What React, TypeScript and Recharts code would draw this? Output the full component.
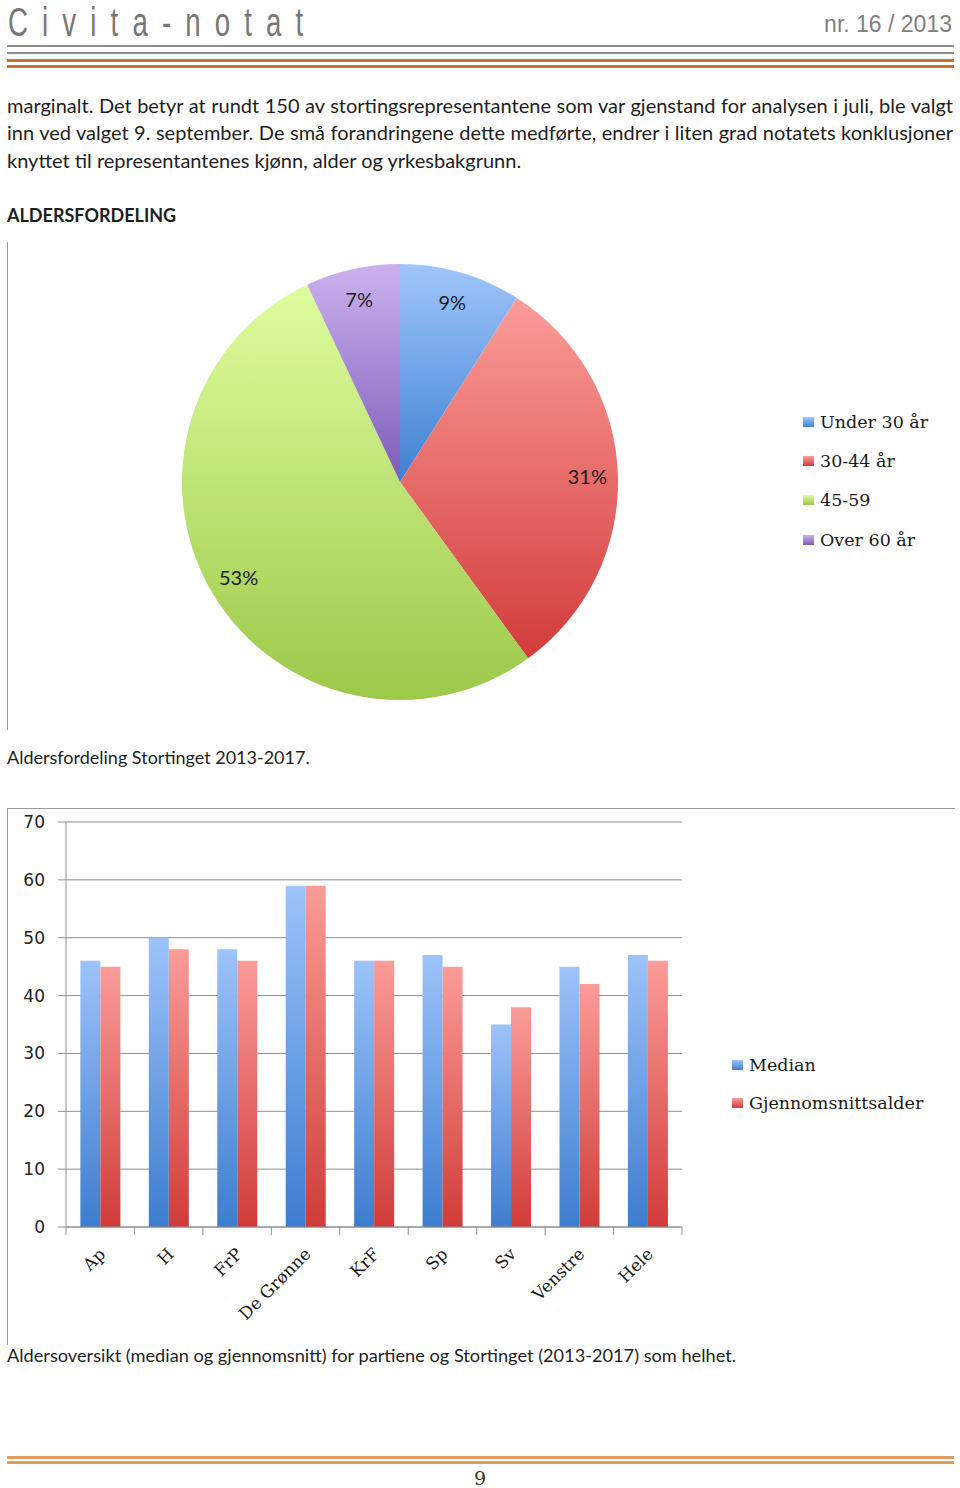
import React from 'react';
import { PieChart, Pie, Cell, BarChart, Bar, XAxis, YAxis, CartesianGrid, Legend } from 'recharts';

// ---------- data ----------
const ageGroups = ['Under 30 år', '30-44 år', '45-59', 'Over 60 år'];
const agePercents = [9, 31, 53, 7];

const parties = ['Ap', 'H', 'FrP', 'De Grønne', 'KrF', 'Sp', 'Sv', 'Venstre', 'Hele'];
const medianAge = [46, 50, 48, 59, 46, 47, 35, 45, 47];
const meanAge = [45, 48, 46, 59, 46, 45, 38, 42, 46];
const seriesNames = ['Median', 'Gjennomsnittsalder'];
const yTicks = [0, 10, 20, 30, 40, 50, 60, 70];

const pieData = ageGroups.map((name, i) => ({ name, value: agePercents[i] }));
const barData = parties.map((name, i) => ({ name, median: medianAge[i], mean: meanAge[i] }));

// ---------- styles ----------
const pieGrad = [
  ['#a0c6fb', '#3f80d2'],
  ['#fb9c99', '#d23c3a'],
  ['#defd9e', '#9dc84a'],
  ['#cbb2ee', '#7d5bb8'],
];
const barGrad = [
  ['#9dc3fa', '#3d7dcf'],
  ['#fb9c99', '#d03c39'],
];
const SERIF = "'DejaVu Serif', 'Liberation Serif', serif";
const SANS = "Lato, 'Noto Sans', sans-serif";
const AXIS = "'DejaVu Sans', sans-serif";
const GRID = '#8e8e8e';

const RAD = Math.PI / 180;
const renderPieLabel = (props: any) => {
  const { cx, cy, midAngle, outerRadius, value } = props;
  const r = outerRadius * 0.86;
  const x = cx + r * Math.cos(-midAngle * RAD);
  const y = cy + r * Math.sin(-midAngle * RAD);
  return (
    <text x={x} y={y} textAnchor="middle" dominantBaseline="central" fontFamily={SANS} fontSize={20} fill="#1c1c1c">
      {value}%
    </text>
  );
};

const LegendList = ({ items, colors, rowH }: { items: string[]; colors: string[][]; rowH: number }) => (
  <div style={{ fontFamily: SERIF, fontSize: 17.5, color: '#1a1a1a' }}>
    {items.map((t, i) => (
      <div key={t} style={{ display: 'flex', alignItems: 'center', height: rowH }}>
        <span
          style={{
            display: 'inline-block',
            width: 11,
            height: 10,
            marginRight: 6,
            background: `linear-gradient(${colors[i][0]}, ${colors[i][1]})`,
          }}
        />
        <span>{t}</span>
      </div>
    ))}
  </div>
);

const PartyTick = (props: any) => {
  const { x, y, payload, width, index } = props;
  const bw = width / parties.length;
  const left = x - bw / 2;
  return (
    <g>
      <line x1={left} y1={y} x2={left} y2={y + 8} stroke={GRID} />
      {index === parties.length - 1 && <line x1={x + bw / 2} y1={y} x2={x + bw / 2} y2={y + 8} stroke={GRID} />}
      <g transform={`translate(${x + 2},${y + 24}) rotate(-45)`}>
        <text x={0} y={0} textAnchor="end" dominantBaseline="central" fontFamily={SERIF} fontSize={17} fill="#1a1a1a">
          {payload.value}
        </text>
      </g>
    </g>
  );
};

const textLine = (top: number, text: string, justify: boolean) => (
  <div
    style={{
      position: 'absolute',
      left: 7,
      top,
      width: 946,
      fontFamily: SANS,
      fontSize: 20,
      lineHeight: '27px',
      color: '#1e1e1e',
      textAlign: justify ? 'justify' : 'left',
      textAlignLast: justify ? 'justify' : 'left',
      whiteSpace: 'nowrap',
    } as any}
  >
    {text}
  </div>
);

export default function App() {
  return (
    <div style={{ position: 'absolute', left: 0, top: 0, width: 960, height: 1488, background: '#fff', overflow: 'hidden' }}>
      {/* header */}
      <div
        style={{
          position: 'absolute',
          left: 8,
          top: 7,
          fontFamily: "'Liberation Sans', Arial, sans-serif",
          fontSize: 40,
          lineHeight: '30px',
          letterSpacing: 20.5,
          color: '#777',
          whiteSpace: 'nowrap',
          transform: 'scaleX(0.69)',
          transformOrigin: '0 0',
        }}
      >
        Civita-notat
      </div>
      <div style={{ position: 'absolute', right: 8, top: 12.5, fontFamily: "'Liberation Sans', Arial, sans-serif", fontSize: 23, lineHeight: '23px', color: '#808080' }}>
        nr. 16 / 2013
      </div>
      <div style={{ position: 'absolute', left: 7, top: 45, width: 947, height: 2, background: '#8d8d8d' }} />
      <div style={{ position: 'absolute', left: 7, top: 52, width: 947, height: 2, background: '#8d8d8d' }} />
      <div style={{ position: 'absolute', left: 7, top: 59, width: 947, height: 3, background: '#c8742e' }} />
      <div style={{ position: 'absolute', left: 7, top: 65, width: 947, height: 3, background: '#c8742e' }} />

      {/* body text */}
      {textLine(92, 'marginalt. Det betyr at rundt 150 av stortingsrepresentantene som var gjenstand for analysen i juli, ble valgt', true)}
      {textLine(119, 'inn ved valget 9. september. De små forandringene dette medførte, endrer i liten grad notatets konklusjoner', true)}
      {textLine(147, 'knyttet til representantenes kjønn, alder og yrkesbakgrunn.', false)}

      <div style={{ position: 'absolute', left: 7, top: 202, fontFamily: SANS, fontWeight: 700, fontSize: 18, lineHeight: '26px', color: '#1e1e1e' }}>
        ALDERSFORDELING
      </div>

      {/* pie chart */}
      <div style={{ position: 'absolute', left: 7, top: 242, width: 1, height: 488, background: '#9a9a9a' }} />
      <div style={{ position: 'absolute', left: 0, top: 242 }}>
        <PieChart width={960} height={488} margin={{ top: 0, right: 0, bottom: 0, left: 0 }}>
          <defs>
            {pieGrad.map((g, i) => (
              <linearGradient key={i} id={`pg${i}`} x1="0" y1="0" x2="0" y2="1">
                <stop offset="0%" stopColor={g[0]} />
                <stop offset="100%" stopColor={g[1]} />
              </linearGradient>
            ))}
          </defs>
          <Pie
            data={pieData}
            dataKey="value"
            nameKey="name"
            cx={400}
            cy={240}
            outerRadius={218}
            startAngle={90}
            endAngle={-270}
            stroke="none"
            label={renderPieLabel}
            labelLine={false}
            isAnimationActive={false}
          >
            {pieData.map((d, i) => (
              <Cell key={d.name} fill={`url(#pg${i})`} />
            ))}
          </Pie>
          <Legend
            layout="vertical"
            verticalAlign="top"
            align="right"
            wrapperStyle={{ left: 803, top: 160, width: 157 }}
            content={() => <LegendList items={ageGroups} colors={pieGrad} rowH={39.3} />}
          />
        </PieChart>
      </div>

      <div style={{ position: 'absolute', left: 7, top: 744, fontFamily: SANS, fontSize: 18, lineHeight: '27px', color: '#1e1e1e' }}>
        Aldersfordeling Stortinget 2013-2017.
      </div>

      {/* bar chart */}
      <div style={{ position: 'absolute', left: 7, top: 808, width: 948, height: 1, background: '#9a9a9a' }} />
      <div style={{ position: 'absolute', left: 7, top: 808, width: 1, height: 537, background: '#9a9a9a' }} />
      <div style={{ position: 'absolute', left: 0, top: 808 }}>
        <BarChart
          width={960}
          height={540}
          data={barData}
          margin={{ top: 14, right: 50, bottom: 21, left: 0 }}
          barCategoryGap="21%"
          barGap={0}
        >
          <defs>
            {barGrad.map((g, i) => (
              <linearGradient key={i} id={`bg${i}`} x1="0" y1="0" x2="0" y2="1">
                <stop offset="0%" stopColor={g[0]} />
                <stop offset="100%" stopColor={g[1]} />
              </linearGradient>
            ))}
          </defs>
          <CartesianGrid vertical={false} stroke={GRID} />
          <YAxis
            width={66}
            domain={[0, 70]}
            ticks={yTicks}
            interval={0}
            tickSize={8}
            tickMargin={13}
            axisLine={{ stroke: GRID }}
            tickLine={{ stroke: GRID }}
            tick={{ fontFamily: AXIS, fontSize: 17, fill: '#222' }}
          />
          <XAxis
            dataKey="name"
            height={100}
            interval={0}
            tickSize={0}
            tickMargin={0}
            axisLine={{ stroke: GRID }}
            tickLine={false}
            tick={<PartyTick />}
          />
          <Bar dataKey="median" name={seriesNames[0]} fill="url(#bg0)" isAnimationActive={false} />
          <Bar dataKey="mean" name={seriesNames[1]} fill="url(#bg1)" isAnimationActive={false} />
          <Legend
            layout="vertical"
            verticalAlign="top"
            align="right"
            wrapperStyle={{ left: 732, top: 238, width: 228 }}
            content={() => <LegendList items={seriesNames} colors={barGrad} rowH={38} />}
          />
        </BarChart>
      </div>

      <div style={{ position: 'absolute', left: 7, top: 1342, fontFamily: SANS, fontSize: 18.2, lineHeight: '27px', color: '#1e1e1e' }}>
        Aldersoversikt (median og gjennomsnitt) for partiene og Stortinget (2013-2017) som helhet.
      </div>

      {/* footer */}
      <div style={{ position: 'absolute', left: 7, top: 1456, width: 947, height: 3, background: '#dc9d5c' }} />
      <div style={{ position: 'absolute', left: 7, top: 1461, width: 947, height: 3, background: '#dc9d5c' }} />
      <div style={{ position: 'absolute', left: 0, top: 1466, width: 960, textAlign: 'center', fontFamily: SERIF, fontSize: 19, lineHeight: '24px', color: '#333' }}>
        9
      </div>
    </div>
  );
}
